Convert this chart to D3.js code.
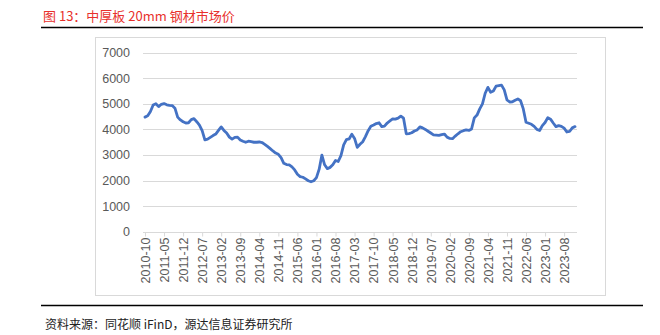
<!DOCTYPE html>
<html><head><meta charset="utf-8">
<script src="https://cdn.jsdelivr.net/npm/d3@7"></script>
<style>
html,body{margin:0;padding:0;background:#fff;}
svg{display:block;}
</style></head>
<body><svg id="c" width="660" height="335"></svg>
<script>
// monthly categories 2010-10 .. 2023-12
const startMonth = new Date(2010, 9, 1);
const categories = d3.timeMonths(startMonth, new Date(2024, 0, 1)).map(d3.timeFormat("%Y-%m"));
// 中厚板 20mm 市场价 (元/吨)
const prices = [
 4480,4530,4700,4950,5000,4890,4980,5010,4960,4940,
 4930,4830,4480,4370,4300,4250,4260,4380,4420,4300,
 4170,3950,3590,3620,3690,3760,3820,3960,4100,3960,
 3860,3700,3620,3690,3700,3590,3540,3500,3540,3520,
 3500,3500,3510,3490,3420,3340,3250,3160,3080,3030,
 2900,2680,2630,2620,2540,2420,2250,2160,2135,2070,
 2000,1960,2000,2120,2450,3000,2620,2470,2520,2620,
 2790,2750,2980,3400,3600,3630,3810,3650,3300,3420,
 3520,3720,3950,4120,4170,4230,4260,4110,4130,4250,
 4330,4410,4400,4440,4520,4440,3830,3840,3870,3940,
 3980,4100,4060,4000,3930,3860,3790,3780,3770,3800,
 3820,3700,3650,3640,3740,3830,3910,3950,3980,3960,
 4020,4450,4560,4800,5000,5410,5640,5450,5500,5690,
 5710,5730,5540,5150,5070,5080,5140,5190,5120,4800,
 4280,4240,4200,4120,4000,3960,4150,4270,4460,4400,
 4250,4110,4150,4120,4050,3900,3920,4060,4110
];
const tickLabels = ["2010-10","2011-05","2011-12","2012-07","2013-02","2013-09","2014-04","2014-11",
 "2015-06","2016-01","2016-08","2017-03","2017-10","2018-05","2018-12","2019-07","2020-02","2020-09",
 "2021-04","2021-11","2022-06","2023-01","2023-08"];
const yTicks = [0,1000,2000,3000,4000,5000,6000,7000];

const svg = d3.select("#c");
const font = "'Liberation Sans', Arial, sans-serif";
const cjk = "'Noto Sans CJK SC', sans-serif";

// title
svg.append("text").attr("x",43).attr("y",21).attr("fill","#e8302c")
  .style("font-family",cjk).style("font-size","13px").text("图 13：中厚板 20mm 钢材市场价");
svg.append("line").attr("x1",41).attr("x2",643).attr("y1",27.5).attr("y2",27.5)
  .attr("stroke","#000").attr("stroke-width",1.3);

// chart frame
svg.append("rect").attr("x",95.5).attr("y",37.5).attr("width",510).attr("height",258)
  .attr("fill","#fff").attr("stroke","#d9d9d9").attr("stroke-width",1);

const x = d3.scaleLinear().domain([0, categories.length-1]).range([145, 575]);
const y = d3.scaleLinear().domain([0, 7000]).range([232, 52.5]);

// gridlines
svg.append("g").selectAll("line").data(yTicks.filter(v=>v>0)).join("line")
  .attr("x1",143).attr("x2",577)
  .attr("y1",d=>Math.round(y(d))+0.5).attr("y2",d=>Math.round(y(d))+0.5)
  .attr("stroke","#d9d9d9").attr("stroke-width",1);

// y labels
svg.append("g").selectAll("text").data(yTicks).join("text")
  .attr("x",130).attr("y",d=>y(d)).attr("dy","0.35em").attr("text-anchor","end")
  .attr("fill","#595959").style("font-family",font).style("font-size","12.5px")
  .text(d=>d);

// x axis
const idx = tickLabels.map(l => categories.indexOf(l));
const xAxis = d3.axisBottom(x).tickValues(idx).tickSize(4).tickSizeOuter(0)
  .tickFormat(i => categories[i]);
const gx = svg.append("g").attr("transform","translate(0,232.5)").call(xAxis);
gx.select(".domain").attr("stroke","#d9d9d9").attr("d","M143,0H577");
gx.selectAll(".tick line").attr("stroke","#d9d9d9");
gx.selectAll(".tick text")
  .attr("transform","rotate(-90)")
  .attr("x",-5).attr("y",0).attr("dy","0.35em")
  .attr("text-anchor","end")
  .attr("fill","#595959").style("font-family",font).style("font-size","12.5px");

// line
const line = d3.line().x((d,i)=>x(i)).y(d=>y(d)).curve(d3.curveLinear);
svg.append("path").datum(prices).attr("d",line)
  .attr("fill","none").attr("stroke","#4472c4").attr("stroke-width",2.8)
  .attr("stroke-linejoin","round").attr("stroke-linecap","round");

// footer
svg.append("line").attr("x1",41).attr("x2",643).attr("y1",305.5).attr("y2",305.5)
  .attr("stroke","#000").attr("stroke-width",1.3);
svg.append("text").attr("x",45).attr("y",329).attr("fill","#222")
  .style("font-family",cjk).style("font-size","12px").text("资料来源：同花顺 iFinD，源达信息证券研究所");
</script></body></html>
